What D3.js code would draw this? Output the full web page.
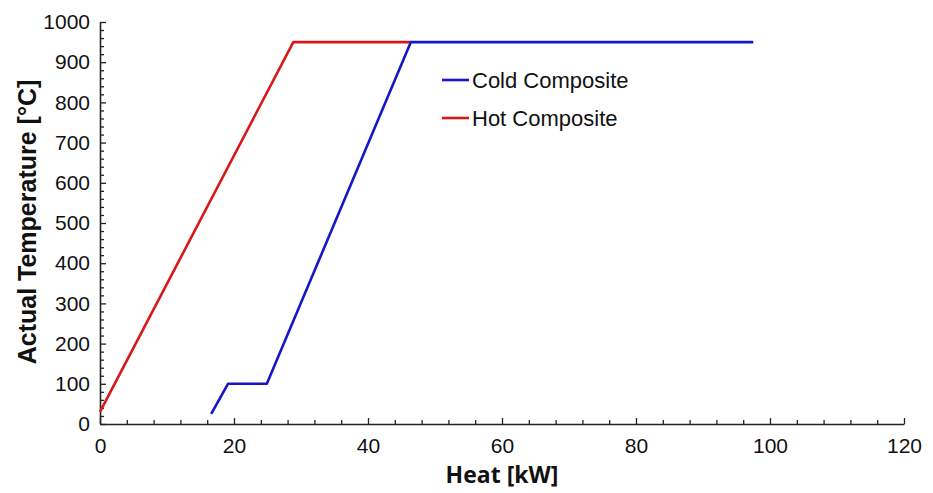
<!DOCTYPE html>
<html>
<head>
<meta charset="utf-8">
<script src="https://cdn.jsdelivr.net/npm/d3@7/dist/d3.min.js"></script>
<style>
  html, body { margin: 0; padding: 0; background: #fff; }
  svg { display: block; }
</style>
</head>
<body>
<svg id="chart" width="933" height="493"></svg>
<script>
// ---- data ----
const hotQ  = [0, 28.85, 46.4];
const hotT  = [30, 950, 950];
const coldQ = [16.6, 19.1, 24.9, 46.4, 97.5];
const coldT = [25, 100, 100, 950, 950];
const seriesNames = ["Cold Composite", "Hot Composite"];
const xTicks = [0, 20, 40, 60, 80, 100, 120];
const yTicks = [0, 100, 200, 300, 400, 500, 600, 700, 800, 900, 1000];
const xTitle = "Heat [kW]";
const yTitle = "Actual Temperature [°C]";

const colors = { cold: "#1616c8", hot: "#d81818" };

const svg = d3.select("#chart");
const x = d3.scaleLinear().domain([0, 120]).range([100, 904]);
const y = d3.scaleLinear().domain([0, 1000]).range([424, 22]);

const axisColor = "#222";

// minor ticks
const xMinor = d3.range(0, 121, 4).filter(v => v % 20 !== 0);
const yMinor = d3.range(0, 1001, 20).filter(v => v % 100 !== 0);

svg.append("g").attr("transform", `translate(0,${y(0)})`)
  .call(d3.axisBottom(x).tickValues(xMinor).tickSizeInner(-4).tickSizeOuter(0).tickFormat(""))
  .call(g => g.select(".domain").remove())
  .call(g => g.selectAll("line").attr("stroke", axisColor).attr("stroke-width", 1.3));

svg.append("g").attr("transform", `translate(${x(0)},0)`)
  .call(d3.axisLeft(y).tickValues(yMinor).tickSizeInner(-4).tickSizeOuter(0).tickFormat(""))
  .call(g => g.select(".domain").remove())
  .call(g => g.selectAll("line").attr("stroke", axisColor).attr("stroke-width", 1.3));

// major axes
const xAxis = svg.append("g").attr("transform", `translate(0,${y(0)})`)
  .call(d3.axisBottom(x).tickValues(xTicks).tickSizeInner(-6).tickSizeOuter(0).tickPadding(14).tickFormat(d3.format("d")));
const yAxis = svg.append("g").attr("transform", `translate(${x(0)},0)`)
  .call(d3.axisLeft(y).tickValues(yTicks).tickSizeInner(-6).tickSizeOuter(0).tickPadding(10).tickFormat(d3.format("d")));

[xAxis, yAxis].forEach(g => {
  g.select(".domain").attr("stroke", axisColor).attr("stroke-width", 1.6);
  g.selectAll(".tick line").attr("stroke", axisColor).attr("stroke-width", 1.3);
  g.selectAll(".tick text")
    .attr("font-family", "'Liberation Sans', Arial, sans-serif")
    .attr("font-size", 21)
    .attr("fill", "#111");
});

// lines
const line = d3.line().x(d => x(d[0])).y(d => y(d[1]));
const hotData = hotQ.map((q, i) => [q, hotT[i]]);
const coldData = coldQ.map((q, i) => [q, coldT[i]]);

svg.append("path").datum(hotData)
  .attr("d", line).attr("fill", "none")
  .attr("stroke", colors.hot).attr("stroke-width", 2.6).attr("stroke-linejoin", "round");
svg.append("path").datum(coldData)
  .attr("d", line).attr("fill", "none")
  .attr("stroke", colors.cold).attr("stroke-width", 2.6).attr("stroke-linejoin", "round");

// legend
const legend = svg.append("g");
const legendItems = [
  { name: seriesNames[0], color: colors.cold, y: 80 },
  { name: seriesNames[1], color: colors.hot, y: 118 }
];
legendItems.forEach(it => {
  legend.append("line")
    .attr("x1", 442).attr("x2", 469).attr("y1", it.y).attr("y2", it.y)
    .attr("stroke", it.color).attr("stroke-width", 2.6);
  legend.append("text")
    .attr("x", 472).attr("y", it.y + 8)
    .attr("font-family", "'Liberation Sans', Arial, sans-serif")
    .attr("font-size", 22)
    .attr("fill", "#111")
    .text(it.name);
});

// axis titles
svg.append("text")
  .attr("x", 502).attr("y", 483)
  .attr("text-anchor", "middle")
  .attr("font-family", "'Open Sans', 'DejaVu Sans', sans-serif")
  .attr("font-weight", "bold")
  .attr("font-size", 23)
  .attr("fill", "#111")
  .text(xTitle);

svg.append("text")
  .attr("transform", `translate(36,222) rotate(-90)`)
  .attr("text-anchor", "middle")
  .attr("font-family", "'Liberation Sans', Arial, sans-serif")
  .attr("font-weight", "bold")
  .attr("font-size", 25)
  .attr("fill", "#111")
  .text(yTitle);
</script>
</body>
</html>
